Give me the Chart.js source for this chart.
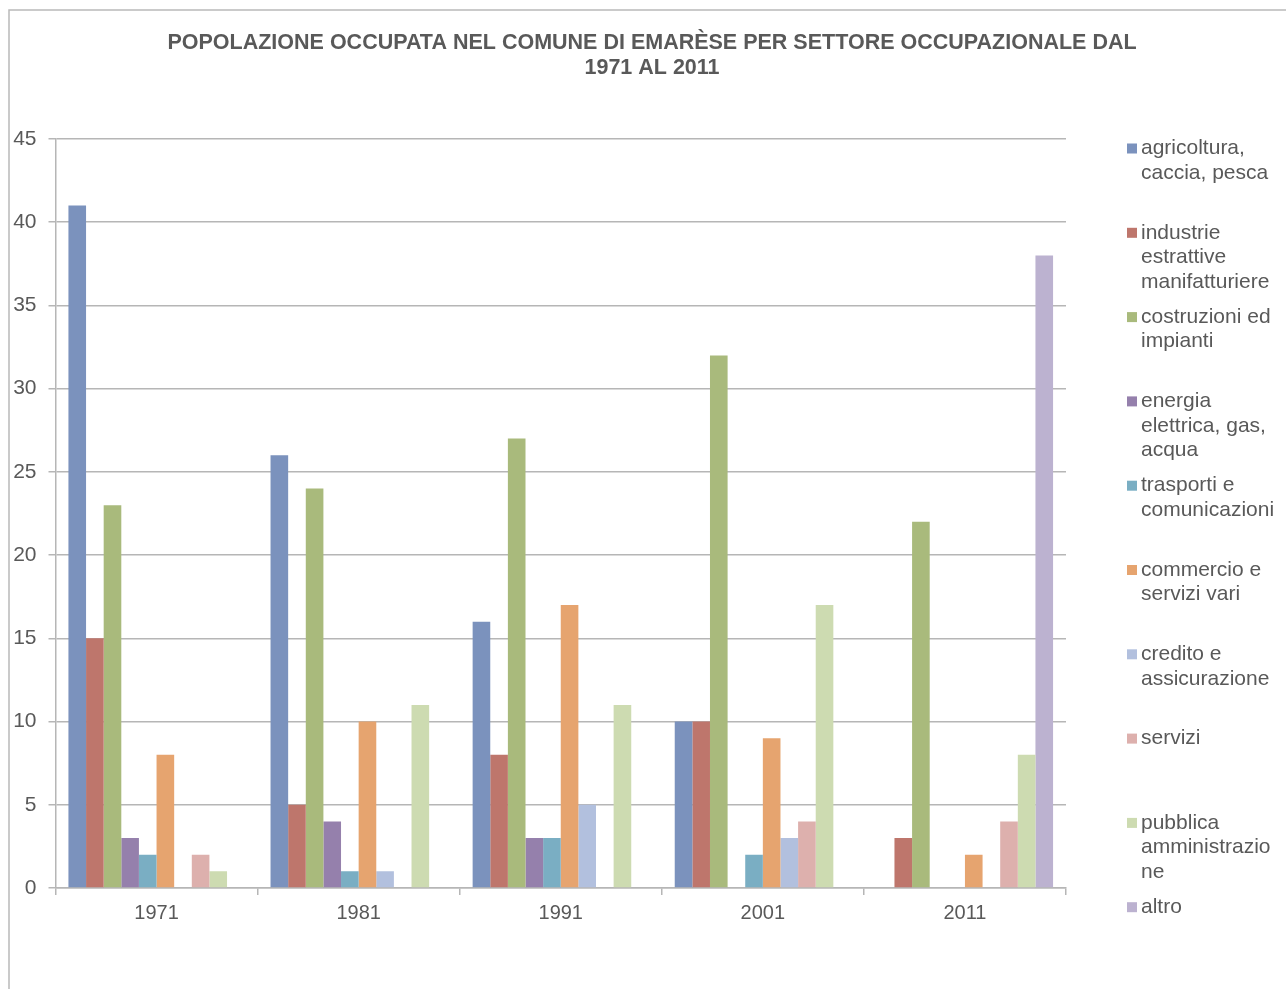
<!DOCTYPE html>
<html>
<head>
<meta charset="utf-8">
<script src="https://cdn.jsdelivr.net/npm/chart.js@4/dist/chart.umd.min.js"></script>
<style>
html,body{margin:0;padding:0;background:#fff;}
#wrap{width:1286px;height:989px;position:relative;}
</style>
</head>
<body>
<div id="wrap"><canvas id="c" width="1286" height="989"></canvas></div>
<script>
const titleLines = ["POPOLAZIONE OCCUPATA NEL COMUNE DI EMARÈSE PER SETTORE OCCUPAZIONALE DAL", "1971 AL 2011"];
const years = ["1971", "1981", "1991", "2001", "2011"];
const yTicks = [0, 5, 10, 15, 20, 25, 30, 35, 40, 45];

const seriesNames = [
  ["agricoltura,", "caccia, pesca"],
  ["industrie", "estrattive", "manifatturiere"],
  ["costruzioni ed", "impianti"],
  ["energia", "elettrica, gas,", "acqua"],
  ["trasporti e", "comunicazioni"],
  ["commercio e", "servizi vari"],
  ["credito e", "assicurazione"],
  ["servizi"],
  ["pubblica", "amministrazio", "ne"],
  ["altro"]
];
const seriesColors = ["#7b92bd", "#be766c", "#a9ba7c", "#9580ac", "#7aaec3", "#e6a46f", "#b2c0de", "#ddb0ad", "#cddbb1", "#bcb2d0"];

const agricoltura   = [41, 26, 16, 10, 0];
const industrie     = [15, 5, 8, 10, 3];
const costruzioni   = [23, 24, 27, 32, 22];
const energia       = [3, 4, 3, 0, 0];
const trasporti     = [2, 1, 3, 2, 0];
const commercio     = [8, 10, 17, 9, 2];
const credito       = [0, 1, 5, 3, 0];
const servizi       = [2, 0, 0, 4, 4];
const pubblica      = [1, 11, 11, 17, 8];
const altro         = [0, 0, 0, 0, 38];

const seriesValues = [agricoltura, industrie, costruzioni, energia, trasporti, commercio, credito, servizi, pubblica, altro];

const textColor = "#595959";
const gridColor = "#b6b6b6";
const fontFamily = "'Liberation Sans', Arial, sans-serif";

const decoPlugin = {
  id: "deco",
  beforeDraw(chart) {
    const ctx = chart.ctx;
    ctx.save();
    ctx.fillStyle = "#fff";
    ctx.fillRect(0, 0, chart.width, chart.height);
    ctx.strokeStyle = "#b9b9b9";
    ctx.lineWidth = 1.5;
    ctx.beginPath();
    ctx.moveTo(9, chart.height + 5);
    ctx.lineTo(9, 10);
    ctx.lineTo(chart.width + 5, 10);
    ctx.stroke();
    ctx.restore();
  },
  afterDraw(chart) {
    const ctx = chart.ctx;
    ctx.save();
    ctx.fillStyle = textColor;
    ctx.font = "bold 21.5px " + fontFamily;
    ctx.textAlign = "center";
    ctx.textBaseline = "middle";
    titleLines.forEach((t, i) => ctx.fillText(t, 652, 43 + i * 25));
    ctx.font = "21px " + fontFamily;
    ctx.textAlign = "left";
    chart.data.datasets.forEach((ds, i) => {
      const y0 = 148.5 + i * 84.3;
      ctx.fillStyle = ds.backgroundColor;
      ctx.fillRect(1127, y0 - 5, 10, 10);
      ctx.fillStyle = textColor;
      seriesNames[i].forEach((line, j) => ctx.fillText(line, 1141, y0 + j * 24.5));
    });
    ctx.restore();
  }
};

new Chart(document.getElementById("c"), {
  type: "bar",
  data: {
    labels: years,
    datasets: seriesValues.map((vals, i) => ({
      label: seriesNames[i].join(" "),
      data: vals,
      backgroundColor: seriesColors[i],
      borderWidth: 0,
      categoryPercentage: 0.872,
      barPercentage: 1.0
    }))
  },
  options: {
    responsive: false,
    animation: false,
    devicePixelRatio: 1,
    layout: { padding: { left: 0, top: 139, right: 220, bottom: 0 } },
    plugins: {
      legend: { display: false },
      title: { display: false },
      tooltip: { enabled: false }
    },
    scales: {
      x: {
        grid: { display: true, drawOnChartArea: false, offset: true, color: gridColor, lineWidth: 1.5, tickLength: 7 },
        border: { display: true, color: gridColor, width: 1.5 },
        ticks: { color: textColor, font: { family: fontFamily, size: 20 }, padding: 6, maxRotation: 0 },
        afterFit(scale) { scale.height = 989 - 888; }
      },
      y: {
        min: 0, max: 45,
        afterBuildTicks(scale) { scale.ticks = yTicks.map(v => ({ value: v })); },
        grid: { color: gridColor, lineWidth: 1.5, tickLength: 7 },
        border: { display: true, color: gridColor, width: 1.5 },
        ticks: { color: textColor, font: { family: fontFamily, size: 21 }, padding: 12 },
        afterFit(scale) { scale.width = 55.5; }
      }
    }
  },
  plugins: [decoPlugin]
});
</script>
</body>
</html>
